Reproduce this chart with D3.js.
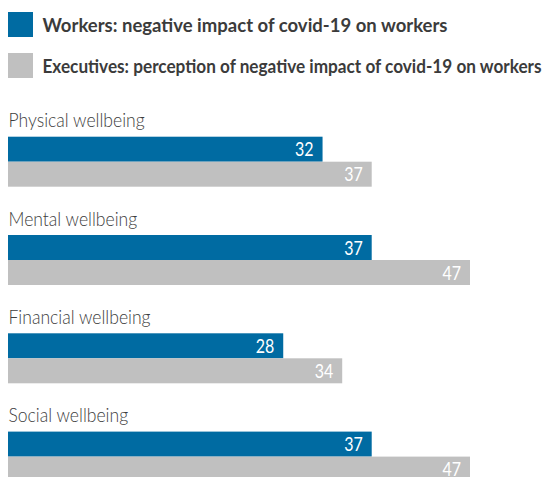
<!DOCTYPE html>
<html>
<head>
<meta charset="utf-8">
<script src="https://cdn.jsdelivr.net/npm/d3@7"></script>
<style>
  html, body { margin: 0; padding: 0; background: #fff; }
  svg { display: block; }
</style>
</head>
<body>
<div id="chart"></div>
<script>
// Survey results: share reporting a negative impact of covid-19, by wellbeing area
const categories = ["Physical wellbeing", "Mental wellbeing", "Financial wellbeing", "Social wellbeing"];
const workers = [32, 37, 28, 37];
const executives = [37, 47, 34, 47];
const seriesNames = [
  "Workers: negative impact of covid-19 on workers",
  "Executives: perception of negative impact of covid-19 on workers"
];
const seriesColors = ["#006ba2", "#c0c0c0"];

const W = 548, H = 477;
const svg = d3.select("#chart").append("svg")
  .attr("width", W).attr("height", H);

const FONT = "Lato, 'Open Sans', sans-serif";

// Squeeze text horizontally by a factor
function condense(sel, k) {
  sel.each(function () {
    const len = this.getComputedTextLength();
    d3.select(this).attr("textLength", len * k).attr("lengthAdjust", "spacingAndGlyphs");
  });
}

// Legend (set widths for the condensed legend lines)
const legendWidths = [405, 499];
const legend = svg.append("g");
const legendRows = legend.selectAll("g").data(seriesNames).join("g")
  .attr("transform", (d, i) => `translate(8, ${12 + i * 41})`);
legendRows.append("rect")
  .attr("width", 25).attr("height", 25)
  .attr("fill", (d, i) => seriesColors[i]);
legendRows.append("text")
  .attr("x", 34.5).attr("y", 20)
  .attr("font-family", FONT).attr("font-weight", 700)
  .attr("font-size", 19.5).attr("fill", "#3b3b3b")
  .attr("textLength", (d, i) => legendWidths[i])
  .attr("lengthAdjust", "spacingAndGlyphs")
  .text(d => d);

// Scales
const x = d3.scaleLinear().domain([0, 47]).range([8, 470]);
const group = d3.scaleBand().domain(categories).range([110, 110 + 4 * 98.3]);
const barH = 25;

const groups = svg.selectAll("g.cat").data(categories).join("g")
  .attr("class", "cat")
  .attr("transform", d => `translate(0, ${group(d)})`);

groups.append("text")
  .attr("x", 8.5).attr("y", 17.3)
  .attr("font-family", FONT).attr("font-weight", 300)
  .attr("font-size", 19.5).attr("fill", "#3d3d3d")
  .text(d => d)
  .call(condense, 0.9);

const rows = groups.selectAll("g.bar")
  .data((d, i) => [workers[i], executives[i]].map((v, s) => ({ v, s })))
  .join("g").attr("class", "bar")
  .attr("transform", d => `translate(0, ${26.7 + d.s * barH})`);

rows.append("rect")
  .attr("x", x(0)).attr("y", 0)
  .attr("width", d => x(d.v) - x(0)).attr("height", barH)
  .attr("fill", d => seriesColors[d.s]);

rows.append("text")
  .attr("x", d => x(d.v) - 9).attr("y", 19.8)
  .attr("text-anchor", "end")
  .attr("font-family", FONT).attr("font-size", 19.5)
  .attr("fill", "#ffffff")
  .text(d => d.v)
  .call(condense, 0.82);
</script>
</body>
</html>
